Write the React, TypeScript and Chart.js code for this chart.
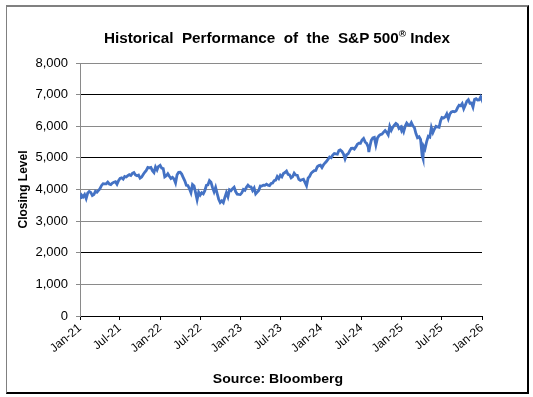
import React, { useEffect, useRef } from "react";
import { Chart, registerables } from "chart.js";

Chart.register(...registerables);

// Weekly closing levels of the S&P 500
const dates: string[] = [
  "2021-01-04","2021-01-08","2021-01-15","2021-01-22","2021-01-29","2021-02-05","2021-02-12","2021-02-19","2021-02-26",
  "2021-03-05","2021-03-12","2021-03-19","2021-03-26","2021-04-01","2021-04-09","2021-04-16","2021-04-23","2021-04-30",
  "2021-05-07","2021-05-14","2021-05-21","2021-05-28","2021-06-04","2021-06-11","2021-06-18","2021-06-25","2021-07-02",
  "2021-07-09","2021-07-16","2021-07-23","2021-07-30","2021-08-06","2021-08-13","2021-08-20","2021-08-27","2021-09-03",
  "2021-09-10","2021-09-17","2021-09-24","2021-10-01","2021-10-08","2021-10-15","2021-10-22","2021-10-29","2021-11-05",
  "2021-11-12","2021-11-19","2021-11-26","2021-12-03","2021-12-10","2021-12-17","2021-12-23","2021-12-31",
  "2022-01-07","2022-01-14","2022-01-21","2022-01-28","2022-02-04","2022-02-11","2022-02-18","2022-02-25","2022-03-04",
  "2022-03-11","2022-03-18","2022-03-25","2022-04-01","2022-04-08","2022-04-14","2022-04-22","2022-04-29","2022-05-06",
  "2022-05-13","2022-05-20","2022-05-27","2022-06-03","2022-06-10","2022-06-17","2022-06-24","2022-07-01","2022-07-08",
  "2022-07-15","2022-07-22","2022-07-29","2022-08-05","2022-08-12","2022-08-19","2022-08-26","2022-09-02","2022-09-09",
  "2022-09-16","2022-09-23","2022-09-30","2022-10-07","2022-10-14","2022-10-21","2022-10-28","2022-11-04","2022-11-11",
  "2022-11-18","2022-11-25","2022-12-02","2022-12-09","2022-12-16","2022-12-23","2022-12-30",
  "2023-01-06","2023-01-13","2023-01-20","2023-01-27","2023-02-03","2023-02-10","2023-02-17","2023-02-24","2023-03-03",
  "2023-03-10","2023-03-17","2023-03-24","2023-03-31","2023-04-06","2023-04-14","2023-04-21","2023-04-28","2023-05-05",
  "2023-05-12","2023-05-19","2023-05-26","2023-06-02","2023-06-09","2023-06-16","2023-06-23","2023-06-30","2023-07-07",
  "2023-07-14","2023-07-21","2023-07-28","2023-08-04","2023-08-11","2023-08-18","2023-08-25","2023-09-01","2023-09-08",
  "2023-09-15","2023-09-22","2023-09-29","2023-10-06","2023-10-13","2023-10-20","2023-10-27","2023-11-03","2023-11-10",
  "2023-11-17","2023-11-24","2023-12-01","2023-12-08","2023-12-15","2023-12-22","2023-12-29",
  "2024-01-05","2024-01-12","2024-01-19","2024-01-26","2024-02-02","2024-02-09","2024-02-16","2024-02-23","2024-03-01",
  "2024-03-08","2024-03-15","2024-03-22","2024-03-28","2024-04-05","2024-04-12","2024-04-19","2024-04-26","2024-05-03",
  "2024-05-10","2024-05-17","2024-05-24","2024-05-31","2024-06-07","2024-06-14","2024-06-21","2024-06-28","2024-07-05",
  "2024-07-12","2024-07-19","2024-07-26","2024-08-02","2024-08-05","2024-08-09","2024-08-16","2024-08-23","2024-08-30",
  "2024-09-06","2024-09-13","2024-09-20","2024-09-27","2024-10-04","2024-10-11","2024-10-18","2024-10-25","2024-11-01",
  "2024-11-08","2024-11-15","2024-11-22","2024-11-29","2024-12-06","2024-12-13","2024-12-20","2024-12-27","2024-12-31",
  "2025-01-03","2025-01-10","2025-01-17","2025-01-24","2025-01-31","2025-02-07","2025-02-14","2025-02-21","2025-02-28",
  "2025-03-07","2025-03-14","2025-03-21","2025-03-28","2025-04-04","2025-04-08","2025-04-11","2025-04-17","2025-04-25",
  "2025-05-02","2025-05-09","2025-05-16","2025-05-23","2025-05-30","2025-06-06","2025-06-13","2025-06-20","2025-06-27",
  "2025-07-03","2025-07-11","2025-07-18","2025-07-25","2025-08-01","2025-08-08","2025-08-15","2025-08-22","2025-08-29",
  "2025-09-05","2025-09-12","2025-09-19","2025-09-26","2025-10-03","2025-10-10","2025-10-17","2025-10-24","2025-10-31",
  "2025-11-07","2025-11-14","2025-11-21","2025-11-28","2025-12-05","2025-12-12","2025-12-19","2025-12-26","2025-12-31",
  "2026-01-02"
];

const closes: number[] = [
  3701,3825,3768,3841,3714,3887,3934,3907,3811,
  3842,3943,3913,3975,4020,4129,4185,4180,4181,
  4233,4174,4156,4204,4230,4247,4166,4281,4352,
  4370,4327,4412,4395,4437,4468,4442,4509,4535,
  4459,4433,4455,4357,4391,4471,4545,4605,4697,
  4683,4698,4595,4538,4712,4620,4726,4766,
  4677,4663,4398,4432,4500,4419,4349,4385,4329,
  4204,4463,4543,4546,4488,4393,4272,4132,4123,
  4024,3901,4158,4109,3901,3675,3912,3825,3899,
  3863,3962,4130,4145,4280,4228,4058,3924,4067,
  3873,3693,3586,3639,3583,3752,3901,3771,3993,
  3965,4026,4072,3934,3852,3845,3840,
  3895,3999,3973,4071,4136,4090,4079,3970,4046,
  3862,3917,3971,4109,4105,4138,4133,4169,4136,
  4124,4192,4205,4282,4299,4410,4348,4450,4399,
  4505,4536,4582,4478,4464,4370,4406,4516,4457,
  4450,4320,4288,4308,4327,4224,4117,4358,4415,
  4514,4559,4595,4604,4719,4755,4770,
  4697,4784,4840,4891,4959,5027,5006,5089,5137,
  5124,5117,5234,5254,5204,5123,4967,5100,5128,
  5223,5303,5305,5278,5347,5432,5465,5460,5567,
  5615,5505,5459,5347,5186,5344,5554,5634,5648,
  5408,5626,5703,5738,5751,5815,5865,5808,5729,
  5995,5870,5969,6032,6090,6051,5931,5971,5882,
  5942,5827,5997,6101,6041,6026,6115,6013,5955,
  5770,5639,5668,5581,5074,4982,5363,5283,5525,
  5686,5660,5958,5803,5912,6000,5977,5968,6173,
  6279,6260,6297,6389,6238,6389,6450,6467,6460,
  6482,6584,6664,6644,6716,6553,6664,6792,6840,
  6729,6734,6603,6849,6870,6827,6834,6930,6845,
  6900
];

const tickDates: string[] = [
  "2021-01-01","2021-07-01","2022-01-01","2022-07-01","2023-01-01","2023-07-01",
  "2024-01-01","2024-07-01","2025-01-01","2025-07-01","2026-01-01"
];
const tickLabels: string[] = [
  "Jan-21","Jul-21","Jan-22","Jul-22","Jan-23","Jul-23",
  "Jan-24","Jul-24","Jan-25","Jul-25","Jan-26"
];
const yTicks: number[] = [0, 1000, 2000, 3000, 4000, 5000, 6000, 7000, 8000];

const FONT = "'Liberation Sans', Arial, Helvetica, sans-serif";

function dayIndex(s: string): number {
  const [y, m, d] = s.split("-").map(Number);
  return (Date.UTC(y, m - 1, d) - Date.UTC(2021, 0, 1)) / 86400000;
}

export default function App() {
  const ref = useRef<HTMLCanvasElement | null>(null);

  useEffect(() => {
    if (!ref.current) return;
    const tickVals = tickDates.map(dayIndex);
    const chart = new Chart(ref.current, {
      type: "line",
      data: {
        datasets: [
          {
            data: dates.map((d, i) => ({ x: dayIndex(d), y: closes[i] })),
            borderColor: "#4472C4",
            borderWidth: 2.8,
            pointRadius: 0,
            tension: 0,
            fill: false,
          },
        ],
      },
      options: {
        animation: false,
        responsive: false,
        maintainAspectRatio: false,
        layout: { padding: { left: 14, top: 63, right: 51, bottom: 0 } },
        plugins: { legend: { display: false }, tooltip: { enabled: false }, title: { display: false } },
        scales: {
          x: {
            type: "linear",
            min: tickVals[0],
            max: tickVals[tickVals.length - 1],
            afterBuildTicks: (scale: any) => {
              scale.ticks = tickVals.map((v) => ({ value: v }));
            },
            afterFit: (scale: any) => {
              scale.height = 81;
            },
            ticks: {
              autoSkip: false,
              minRotation: 40,
              maxRotation: 40,
              padding: 1,
              color: "#000",
              font: { family: FONT, size: 12 },
              callback: (_v: any, i: number) => tickLabels[i],
            },
            grid: { drawOnChartArea: false, drawTicks: true, tickLength: 4, color: "#000" },
            border: { color: "#000", width: 1 },
          },
          y: {
            min: 0,
            max: 8000,
            afterBuildTicks: (scale: any) => {
              scale.ticks = yTicks.map((v) => ({ value: v }));
            },
            afterFit: (scale: any) => {
              scale.width = 66;
            },
            ticks: {
              padding: 8,
              color: "#000",
              font: { family: FONT, size: 13 },
              callback: (v: any) => Number(v).toLocaleString("en-US"),
            },
            grid: {
              color: (ctx: any) =>
                [0, 2000, 5000, 7000].includes(ctx.tick?.value) ? "#000" : "#8a8a8a",
              tickColor: "#8a8a8a",
              tickLength: 4,
              lineWidth: 1,
            },
            border: { color: "#8a8a8a", width: 1 },
            title: {
              display: true,
              text: "Closing Level",
              color: "#000",
              padding: 2,
              font: { family: FONT, size: 12, weight: "bold" },
            },
          },
        },
      },
    });
    return () => chart.destroy();
  }, []);

  return (
    <div style={{ position: "fixed", left: 0, top: 0, width: 533, height: 397, background: "#fff", overflow: "hidden" }}>
      <div
        style={{
          position: "absolute",
          left: 6,
          top: 5,
          width: 520,
          height: 385,
          borderTop: "2px solid #808080",
          borderLeft: "1px solid #808080",
          borderRight: "2px solid #000",
          borderBottom: "2px solid #000",
        }}
      />
      <canvas ref={ref} width={533} height={397} style={{ position: "absolute", left: 0, top: 0 }} />
      <div
        style={{
          position: "absolute",
          left: 0,
          width: 554,
          top: 30,
          textAlign: "center",
          fontFamily: FONT,
          fontWeight: "bold",
          fontSize: 14,
          whiteSpace: "pre",
          color: "#000",
          lineHeight: "16px",
          transform: "scaleX(1.09)",
          transformOrigin: "277px 8px",
        }}
      >
        {"Historical  Performance  of  the  S&P 500"}
        <sup style={{ fontSize: 9, lineHeight: 0, verticalAlign: "6px" }}>®</sup>
        {" Index"}
      </div>
      <div
        style={{
          position: "absolute",
          left: 0,
          width: 556,
          top: 371,
          textAlign: "center",
          fontFamily: FONT,
          fontWeight: "bold",
          fontSize: 13,
          color: "#000",
          lineHeight: "15px",
          transform: "scaleX(1.08)",
          transformOrigin: "278px 7px",
        }}
      >
        Source: Bloomberg
      </div>
    </div>
  );
}
